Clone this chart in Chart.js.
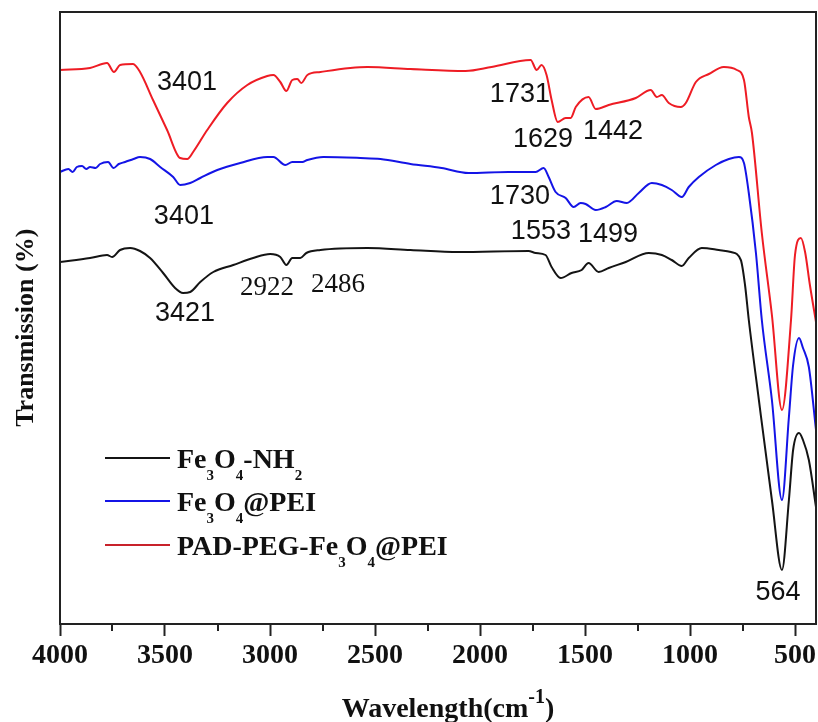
<!DOCTYPE html>
<html>
<head>
<meta charset="utf-8">
<script src="https://cdn.jsdelivr.net/npm/chart.js@4.4.1/dist/chart.umd.min.js"></script>
<style>
  body { margin: 0; background: #fff; }
  canvas { display: block; }
</style>
</head>
<body>
<canvas id="ftirChart" width="818" height="722"></canvas>
<script>
// FTIR spectra, wavenumber (cm-1) and transmission (a.u.)
const nh2Wn = [4000, 3857, 3776, 3752, 3714, 3666, 3619, 3571, 3509, 3452, 3414, 3380, 3332, 3270, 3175, 3080, 2999, 2951, 2922, 2894, 2856, 2827, 2760, 2536, 2331, 2102, 1769, 1735, 1688, 1659, 1616, 1564, 1516, 1483, 1435, 1387, 1306, 1196, 1134, 1087, 1039, 1006, 944, 863, 805, 758, 738, 720, 672, 610, 562, 529, 509, 481, 462, 434, 400];
const nh2T = [362, 366, 369, 367, 374, 376, 373, 366, 351, 336, 331, 332, 342, 352, 359, 366, 370, 367, 359, 366, 366, 371, 374, 376, 374, 372, 373, 371, 369, 357, 346, 351, 354, 361, 352, 356, 362, 371, 369, 364, 358, 366, 376, 374, 372, 364, 339, 304, 224, 124, 54, 124, 174, 191, 184, 164, 117];

const peiWn = [4000, 3960, 3940, 3920, 3895, 3875, 3857, 3830, 3809, 3771, 3745, 3720, 3690, 3650, 3619, 3571, 3523, 3461, 3428, 3380, 3332, 3251, 3142, 3013, 2984, 2927, 2894, 2846, 2822, 2746, 2570, 2474, 2331, 2183, 2055, 1864, 1735, 1697, 1673, 1640, 1592, 1554, 1521, 1497, 1449, 1401, 1349, 1301, 1244, 1182, 1134, 1087, 1039, 1006, 958, 877, 815, 767, 743, 720, 686, 658, 610, 562, 529, 509, 481, 462, 434, 400];
const peiT = [452, 455, 452, 457, 458, 455, 457, 456, 460, 462, 456, 460, 462, 465, 467, 465, 457, 447, 439, 441, 446, 454, 461, 467, 467, 459, 462, 462, 464, 467, 466, 465, 460, 456, 451, 452, 452, 456, 447, 432, 426, 417, 421, 420, 414, 417, 423, 421, 431, 441, 439, 434, 427, 437, 447, 459, 465, 467, 461, 431, 371, 304, 224, 124, 207, 259, 286, 276, 257, 194];

const padWn = [4000, 3857, 3776, 3743, 3714, 3652, 3619, 3557, 3490, 3428, 3394, 3366, 3299, 3204, 3108, 3013, 2984, 2951, 2922, 2894, 2870, 2851, 2822, 2760, 2536, 2331, 2069, 1945, 1759, 1730, 1707, 1683, 1659, 1630, 1592, 1568, 1544, 1483, 1449, 1387, 1258, 1187, 1158, 1134, 1101, 1044, 1020, 972, 910, 839, 777, 743, 720, 705, 658, 610, 562, 519, 500, 472, 452, 429, 400];
const padT = [554, 556, 561, 552, 559, 560, 552, 524, 494, 466, 465, 472, 494, 521, 539, 548, 549, 542, 533, 544, 545, 541, 549, 552, 557, 555, 553, 557, 564, 554, 559, 549, 524, 502, 506, 506, 517, 527, 515, 519, 526, 534, 527, 529, 521, 517, 521, 542, 550, 557, 554, 544, 507, 491, 391, 309, 214, 304, 369, 386, 372, 339, 302];

const xTicks = [4000, 3500, 3000, 2500, 2000, 1500, 1000, 500];
const minorTicks = [3750, 3250, 2750, 2250, 1750, 1250, 750];

// legend names, [text, isSubscript]
const nh2Name = [["Fe", 0], ["3", 1], ["O", 0], ["4", 1], ["-NH", 0], ["2", 1]];
const peiName = [["Fe", 0], ["3", 1], ["O", 0], ["4", 1], ["@PEI", 0]];
const padName = [["PAD-PEG-Fe", 0], ["3", 1], ["O", 0], ["4", 1], ["@PEI", 0]];

// peak labels at (wavenumber, transmission)
const peakText = ["3401", "3401", "3421", "2922", "2486", "1731", "1629", "1442", "1730", "1553", "1499", "564"];
const peakWn = [3395, 3410, 3405, 3014, 2676, 1810, 1700, 1367, 1810, 1710, 1390, 581];
const peakT = [541, 407, 310, 336, 339, 529, 484, 492, 427, 392, 389, 31];
const peakSerif = [0, 0, 0, 1, 1, 0, 0, 0, 0, 0, 0, 0];

const BLACK = "#141414";
const BLUE = "#1414e6";
const RED = "#ee1c24";
const SERIF = '"Liberation Serif", "Times New Roman", serif';
const SANS = '"Liberation Sans", Arial, sans-serif';

function toPoints(wn, t) {
  return wn.map((w, i) => ({ x: w, y: t[i] }));
}

function drawRich(ctx, parts, x, baseline, size, shift) {
  parts.forEach(([txt, sub]) => {
    const s = sub ? Math.round(size * 0.55) : size;
    ctx.font = "bold " + s + "px " + SERIF;
    ctx.fillText(txt, x, baseline + (sub ? shift : 0));
    x += ctx.measureText(txt).width;
  });
  return x;
}

const decorations = {
  id: "decorations",
  afterDraw(chart) {
    const { ctx, chartArea: a } = chart;
    const x = chart.scales.x, y = chart.scales.y;
    ctx.save();

    // minor ticks
    ctx.strokeStyle = "#222";
    ctx.lineWidth = 2;
    minorTicks.forEach(v => {
      const px = Math.round(x.getPixelForValue(v));
      ctx.beginPath();
      ctx.moveTo(px, a.bottom);
      ctx.lineTo(px, a.bottom + 7);
      ctx.stroke();
    });

    // frame
    ctx.strokeRect(a.left, a.top, a.right - a.left, a.bottom - a.top);

    // peak labels
    ctx.fillStyle = "#111";
    ctx.textAlign = "center";
    ctx.textBaseline = "middle";
    peakText.forEach((txt, i) => {
      ctx.font = "27px " + (peakSerif[i] ? SERIF : SANS);
      ctx.fillText(txt, x.getPixelForValue(peakWn[i]), y.getPixelForValue(peakT[i]));
    });

    // legend
    ctx.textAlign = "left";
    ctx.textBaseline = "alphabetic";
    const rows = [[nh2Name, BLACK, 446], [peiName, BLUE, 489], [padName, "#c8222b", 533]];
    rows.forEach(([parts, color, dy]) => {
      const ly = a.top + dy;
      ctx.strokeStyle = color;
      ctx.lineWidth = 2;
      ctx.beginPath();
      ctx.moveTo(a.left + 45, ly);
      ctx.lineTo(a.left + 110, ly);
      ctx.stroke();
      ctx.fillStyle = "#111";
      drawRich(ctx, parts, a.left + 117, ly + 10, 28, 12);
    });

    // x axis title with superscript
    ctx.font = "bold 28px " + SERIF;
    const w1 = ctx.measureText("Wavelength(cm").width;
    ctx.font = "bold 20px " + SERIF;
    const w2 = ctx.measureText("-1").width;
    ctx.font = "bold 28px " + SERIF;
    const w3 = ctx.measureText(")").width;
    let tx = (a.left + a.right) / 2 + 10 - (w1 + w2 + w3) / 2;
    const base = a.bottom + 93;
    ctx.fillText("Wavelength(cm", tx, base);
    tx += w1;
    ctx.font = "bold 20px " + SERIF;
    ctx.fillText("-1", tx, base - 14);
    tx += w2;
    ctx.font = "bold 28px " + SERIF;
    ctx.fillText(")", tx, base);

    ctx.restore();
  }
};

const ctx = document.getElementById("ftirChart");

new Chart(ctx, {
  type: "line",
  data: {
    datasets: [
      { label: "Fe3O4-NH2", data: toPoints(nh2Wn, nh2T), borderColor: BLACK },
      { label: "Fe3O4@PEI", data: toPoints(peiWn, peiT), borderColor: BLUE },
      { label: "PAD-PEG-Fe3O4@PEI", data: toPoints(padWn, padT), borderColor: RED },
    ],
  },
  options: {
    responsive: false,
    animation: false,
    layout: { padding: { top: 12, right: 2, left: 0, bottom: 0 } },
    elements: {
      point: { radius: 0 },
      line: { borderWidth: 2, cubicInterpolationMode: "monotone" },
    },
    plugins: {
      legend: { display: false },
      tooltip: { enabled: false },
    },
    scales: {
      x: {
        type: "linear",
        reverse: true,
        min: 400,
        max: 4000,
        afterBuildTicks: (scale) => {
          scale.ticks = xTicks.map(v => ({ value: v }));
        },
        afterFit: (scale) => {
          scale.height = 98;
          scale.paddingLeft = 0;
          scale.paddingRight = 0;
        },
        ticks: {
          color: "#111",
          padding: 3,
          maxRotation: 0,
          autoSkip: false,
          font: { family: SERIF, size: 28, weight: "bold" },
          callback: (value) => String(value),
        },
        grid: {
          drawOnChartArea: false,
          drawTicks: true,
          tickLength: 12,
          tickWidth: 2,
          tickColor: "#222",
        },
        border: { display: false },
      },
      y: {
        min: 0,
        max: 612,
        ticks: { display: false },
        grid: { display: false },
        border: { display: false },
        afterFit: (scale) => {
          scale.width = 60;
        },
        title: {
          display: true,
          text: "Transmission (%)   ",
          color: "#111",
          padding: { top: 11, bottom: 0 },
          font: { family: SERIF, size: 26, weight: "bold" },
        },
      },
    },
  },
  plugins: [decorations],
});
</script>
</body>
</html>
